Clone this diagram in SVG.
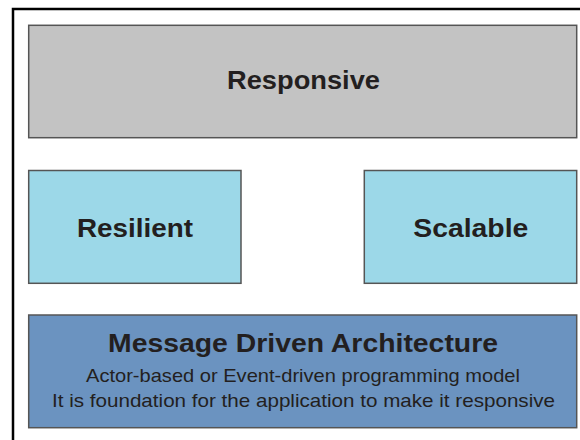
<svg xmlns="http://www.w3.org/2000/svg" width="580" height="440" viewBox="0 0 580 440">
<style>
.box{stroke:#555555;stroke-width:1.5}
.t{font-family:"Liberation Sans",Arial,sans-serif;fill:#231f20;text-anchor:middle}
.b{font-weight:bold;font-size:26px}
.s{font-size:18.5px}
</style>
<rect width="580" height="440" fill="#ffffff"/>
<path d="M13,440 V9 H580" fill="none" stroke="#000000" stroke-width="2.5"/>
<g id="responsive">
<rect class="box" x="28.7" y="25.3" width="548" height="112.4" fill="#c3c3c3"/>
<text class="t b" x="303.5" y="89" textLength="153" lengthAdjust="spacingAndGlyphs">Responsive</text>
</g>
<g id="resilient">
<rect class="box" x="28.7" y="170.5" width="212.3" height="112.8" fill="#9cd8e8"/>
<text class="t b" x="135" y="237" textLength="116" lengthAdjust="spacingAndGlyphs">Resilient</text>
</g>
<g id="scalable">
<rect class="box" x="364.3" y="170.5" width="212.4" height="112.8" fill="#9cd8e8"/>
<text class="t b" x="470.8" y="237" textLength="115" lengthAdjust="spacingAndGlyphs">Scalable</text>
</g>
<g id="message">
<rect class="box" x="28.7" y="315" width="548" height="112.7" fill="#6b93c0"/>
<text class="t b" x="303" y="352" textLength="390" lengthAdjust="spacingAndGlyphs">Message Driven Architecture</text>
<text class="t s" x="303" y="382" textLength="434" lengthAdjust="spacingAndGlyphs">Actor-based or Event-driven programming model</text>
<text class="t s" x="303.5" y="407" textLength="503" lengthAdjust="spacingAndGlyphs">It is foundation for the application to make it responsive</text>
</g>
<g id="connectors"></g>
</svg>
